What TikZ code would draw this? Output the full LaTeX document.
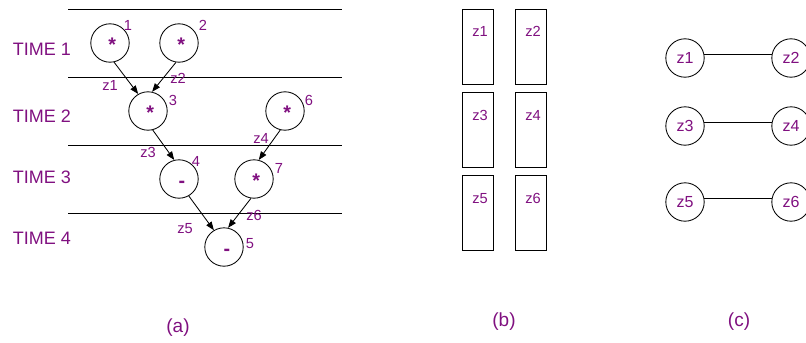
\documentclass[tikz,border=0pt]{standalone}
\usepackage{fontspec}
\setmainfont{Liberation Sans}
\usepackage{xcolor}
\usetikzlibrary{arrows.meta}
\definecolor{oppurple}{RGB}{128,16,128}

\begin{document}
\begin{tikzpicture}[x=0.025cm, y=-0.025cm, line width=0.6pt,
    >={Triangle[length=6pt,width=4.5pt]},
    op/.style={circle, draw, minimum size=0.96cm, inner sep=0pt, text=oppurple,
        font=\fontsize{14}{14}\selectfont\bfseries, text height=12.3pt, text depth=0pt},
    tag/.style={text=oppurple, font=\fontsize{10.4}{12}\selectfont, inner sep=0pt},
    timelbl/.style={text=oppurple, font=\fontsize{12.8}{14}\selectfont, inner sep=0pt},
    panellbl/.style={text=oppurple, font=\fontsize{13.5}{15}\selectfont, inner sep=0pt},
    reg/.style={draw, minimum width=0.775cm, minimum height=1.875cm, inner sep=0pt},
    var/.style={circle, draw, minimum size=0.96cm, inner sep=0pt, text=oppurple,
        font=\fontsize{11.4}{13}\selectfont}]
    \useasboundingbox (0,0) rectangle (806,342);

    % (a) schedule over time steps
    \foreach \y in {9, 77, 145, 213}
        \draw (68,\y) -- (342,\y);
    \foreach \t/\y in {1/49, 2/116, 3/177, 4/238}
        \node[timelbl] (time\t) at (42,\y) {TIME \t};

    \node[op] (op1) at (110,43) {\kern3pt*};
    \node[op] (op2) at (179,43) {\kern3pt*};
    \node[op] (op3) at (148,111) {\kern3pt*};
    \node[op] (op6) at (285,111) {\kern3pt*};
    \node[op] (op4) at (179,179) {\kern4pt-};
    \node[op] (op7) at (254,179) {\kern3pt*};
    \node[op] (op5) at (224,247) {\kern4pt-};

    \foreach \n/\x/\y in {1/128/25, 2/203/25, 3/173/100, 6/309/100, 4/196/161, 7/279/168, 5/250/244}
        \node[tag] (num\n) at (\x,\y) {\n};

    \draw[->] (op1.-78) -- (op3.120);
    \draw[->] (op2.-99) -- (op3.78);
    \draw[->] (op3.-76) -- (op4.104);
    \draw[->] (op6.-104) -- (op7.76);
    \draw[->] (op4.-60) -- (op5.121);
    \draw[->] (op7.-99) -- (op5.78);

    \foreach \n/\x/\y in {1/110/85, 2/178/78, 3/148/152, 4/261/138, 5/185/229, 6/254/215}
        \node[tag] (edge\n) at (\x,\y) {z\n};

    \node[panellbl] (capa) at (178,328) {(a)};

    % (b) registers
    \foreach \i/\x/\y in {1/477.5/46.5, 2/530.5/46.5, 3/477.5/130, 4/530.5/130, 5/477.5/213, 6/530.5/213} {
        \node[reg] (reg\i) at (\x,\y) {};
        \node[tag] (regz\i) at ([xshift=1.8pt, yshift=-16.4pt]reg\i.north) {z\i};
    }
    \node[panellbl] (capb) at (504,322) {(b)};

    % (c) compatibility graph
    \foreach \i/\j/\y in {1/2/58, 3/4/126, 5/6/202} {
        \node[var] (v\i) at (685,\y) {z\i};
        \node[var] (v\j) at (791,\y) {z\j};
        \draw (v\i.10) -- (v\j.170);
    }
    \node[panellbl] (capc) at (739,322) {(c)};
\end{tikzpicture}
\end{document}
